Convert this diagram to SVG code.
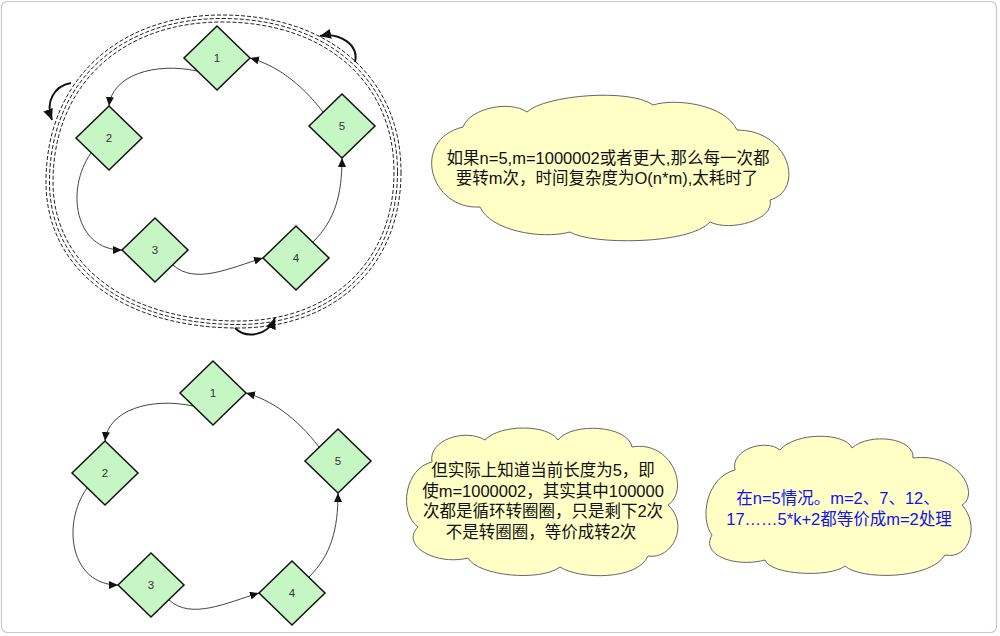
<svg xmlns="http://www.w3.org/2000/svg" width="1000" height="636" viewBox="0 0 1000 636">
<defs>
<style>
.frame{fill:#ffffff;stroke:#c8c8c8;stroke-width:1.2}
.dia{fill:#c6f6c4;stroke:#111;stroke-width:1.5}
.lbl{font-family:"Liberation Sans","Noto Sans CJK SC",sans-serif;font-size:11.5px;fill:#333;text-anchor:middle}
.edge{fill:none;stroke:#444;stroke-width:1}
.ring{fill:none;stroke:#222;stroke-width:1;stroke-dasharray:4 2}
.rot{fill:none;stroke:#111;stroke-width:2}
.cloud{fill:#ffffc6;stroke:#666;stroke-width:1}
.ct{font-family:"Liberation Sans","Noto Sans CJK SC",sans-serif;font-size:16.5px;fill:#111;text-anchor:middle}
.blue{fill:#1212f0}
</style>
<marker id="ah" markerUnits="userSpaceOnUse" markerWidth="10" markerHeight="8" refX="9" refY="4" orient="auto"><path d="M0,0 L9,4 L0,8 Z" fill="#111"/></marker>
<marker id="ahb" markerUnits="userSpaceOnUse" markerWidth="12" markerHeight="10" refX="11" refY="5" orient="auto"><path d="M0,0 L11,5 L0,10 Z" fill="#111"/></marker>
</defs>
<rect class="frame" x="1.5" y="1.5" width="995" height="631" rx="6"/>

<g id="rings">
<path class="ring" d="M401,172 C401,265.6 335.8,328 238,328 C122.8,328 46,269.6 46,182 C46,81.8 116.4,15 222,15 C329.4,15 401,77.8 401,172 Z"/>
<path class="ring" d="M397.5,172 C397.5,263.5 333.7,324.5 238,324.5 C124.9,324.5 49.5,267.5 49.5,182 C49.5,83.9 118.5,18.5 222,18.5 C327.3,18.5 397.5,79.9 397.5,172 Z"/>
<path class="ring" d="M394,172 C394,261.4 331.6,321 238,321 C127,321 53,265.4 53,182 C53,86 120.6,22 222,22 C325.2,22 394,82 394,172 Z"/>
</g>

<g id="rotation-arrows">
<path class="rot" d="M355,62 C359,45 340,32 320,36" marker-end="url(#ahb)"/>
<path class="rot" d="M71,83 C54,86 45,102 52,120" marker-end="url(#ahb)"/>
<path class="rot" d="M235,328 C246,339 268,336 275,318" marker-end="url(#ahb)"/>
</g>

<g id="connectors-top">
<path class="edge" d="M197,71 C155,62 112,75 109,106" marker-end="url(#ah)"/>
<path class="edge" d="M91,153 C65,190 75,250 122,250" marker-end="url(#ah)"/>
<path class="edge" d="M173,265 C195,285 230,268 263,258" marker-end="url(#ah)"/>
<path class="edge" d="M313,242 C335,220 342,195 342,158" marker-end="url(#ah)"/>
<path class="edge" d="M323,112 C300,82 275,65 250,58" marker-end="url(#ah)"/>
</g>

<g id="top-n1"><path class="dia" d="M217,26 L250,58 L217,90 L184,58 Z"/><text class="lbl" x="217" y="62">1</text></g>
<g id="top-n2"><path class="dia" d="M109,106 L142,138 L109,170 L76,138 Z"/><text class="lbl" x="109" y="142">2</text></g>
<g id="top-n3"><path class="dia" d="M155,218 L188,250 L155,282 L122,250 Z"/><text class="lbl" x="155" y="254">3</text></g>
<g id="top-n4"><path class="dia" d="M296,226 L329,258 L296,290 L263,258 Z"/><text class="lbl" x="296" y="262">4</text></g>
<g id="top-n5"><path class="dia" d="M342,94 L375,126 L342,158 L309,126 Z"/><text class="lbl" x="342" y="130">5</text></g>

<g id="bottom-diagram" transform="translate(-4,335)">
<g id="connectors-bottom">
<path class="edge" d="M197,71 C155,62 112,75 109,106" marker-end="url(#ah)"/>
<path class="edge" d="M91,153 C65,190 75,250 122,250" marker-end="url(#ah)"/>
<path class="edge" d="M173,265 C195,285 230,268 263,258" marker-end="url(#ah)"/>
<path class="edge" d="M313,242 C335,220 342,195 342,158" marker-end="url(#ah)"/>
<path class="edge" d="M323,112 C300,82 275,65 250,58" marker-end="url(#ah)"/>
</g>
<g id="bot-n1"><path class="dia" d="M217,26 L250,58 L217,90 L184,58 Z"/><text class="lbl" x="217" y="62">1</text></g>
<g id="bot-n2"><path class="dia" d="M109,106 L142,138 L109,170 L76,138 Z"/><text class="lbl" x="109" y="142">2</text></g>
<g id="bot-n3"><path class="dia" d="M155,218 L188,250 L155,282 L122,250 Z"/><text class="lbl" x="155" y="254">3</text></g>
<g id="bot-n4"><path class="dia" d="M296,226 L329,258 L296,290 L263,258 Z"/><text class="lbl" x="296" y="262">4</text></g>
<g id="bot-n5"><path class="dia" d="M342,94 L375,126 L342,158 L309,126 Z"/><text class="lbl" x="342" y="130">5</text></g>
</g>

<g id="cloud1">
<path class="cloud" d="M463,127 C470,108 510,100 527,112 C545,95 630,88 653,105 C675,98 725,104 737,130 C790,130 805,190 770,200 C775,220 730,232 710,222 C690,245 590,245 570,232 C540,240 490,230 480,207 C430,210 410,140 463,127 Z"/>
<text class="ct" x="608" y="164">如果n=5,m=1000002或者更大,那么每一次都</text>
<text class="ct" x="607" y="184">要转m次，时间复杂度为O(n*m),太耗时了</text>
</g>

<g id="cloud2">
<path class="cloud" d="M432,462 C428,440 465,428 485,440 C500,424 548,424 558,440 C572,422 628,425 632,447 C672,440 690,490 668,505 C690,525 672,560 648,556 C638,580 580,580 560,567 C540,582 478,576 468,558 C435,566 400,545 418,527 C398,512 405,468 432,462 Z"/>
<text class="ct" x="543" y="476">但实际上知道当前长度为5，即</text>
<text class="ct" x="543" y="497">使m=1000002，其实其中100000</text>
<text class="ct" x="543" y="517">次都是循环转圈圈，只是剩下2次</text>
<text class="ct" x="541" y="538">不是转圈圈，等价成转2次</text>
</g>

<g id="cloud3">
<path class="cloud" d="M735,470 C730,450 765,438 780,450 C795,432 845,432 852,448 C870,432 915,438 913,458 C960,452 980,495 962,505 C980,525 970,560 945,555 C930,580 860,580 845,566 C830,578 770,575 765,560 C735,568 700,555 712,535 C700,520 705,478 735,470 Z"/>
<text class="ct blue" x="838" y="504">在n=5情况。m=2、7、12、</text>
<text class="ct blue" x="839" y="525">17……5*k+2都等价成m=2处理</text>
</g>
</svg>
